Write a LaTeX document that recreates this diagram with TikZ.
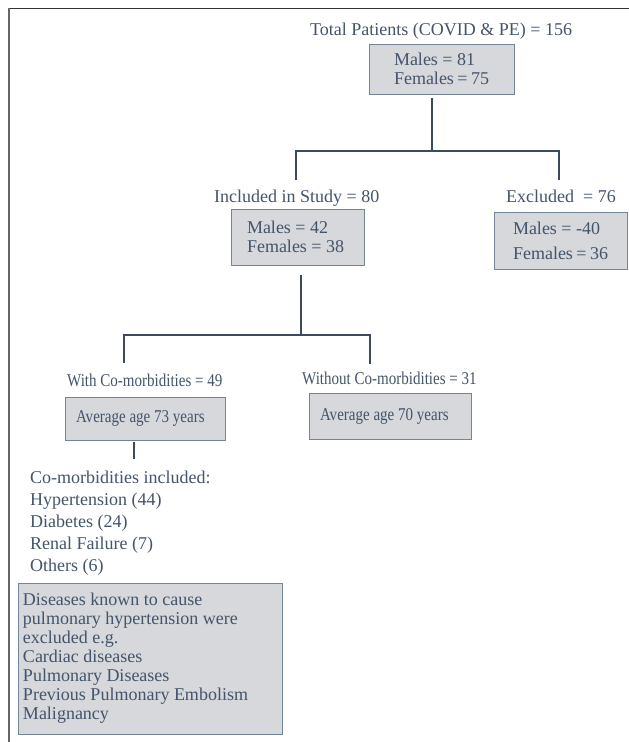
\documentclass[tikz,border=0pt]{standalone}
\usepackage{fontspec}
\setmainfont{Liberation Serif}
\newfontfamily\narrowserif[FakeStretch=0.835]{Liberation Serif}
\usetikzlibrary{calc}
\definecolor{txt}{HTML}{44546A}
\definecolor{boxfill}{HTML}{D6D8DB}
\definecolor{boxline}{HTML}{74849A}
\definecolor{lne}{HTML}{3B4A5E}
\begin{document}
\begin{tikzpicture}[x=1pt,y=-1pt,
  every node/.style={text=txt, font=\fontsize{18}{18.5}\selectfont, inner sep=0pt},
  lbl/.style={anchor=base west},
  small/.style={font=\narrowserif\fontsize{18}{18}\selectfont},
  box/.style={draw=boxline, fill=boxfill, line width=1pt, align=flush left, inner ysep=0pt},
  conn/.style={draw=lne, line width=1.5pt}]
\useasboundingbox (0,0) rectangle (629,742);
\draw[line width=1.5pt, color=black!80] (8,8.5) -- (629,8.5);
\draw[line width=2pt, color=black!60] (8.5,8) -- (8.5,742);

\node[lbl] (title) at (310,35) {Total Patients (COVID \& PE) = 156};
\node[box, text width=95pt, inner xsep=25pt, minimum height=50pt] (top) at (441.5,69) {Males~=~81\\Females~=~75};

\node[lbl] (incl) at (214,202) {Included in Study = 80};
\node[box, text width=101pt, inner xsep=16pt, minimum height=56pt] (inclbox) at (297.5,237) {Males~=~42\\Females~=~38};

\node[lbl] (excl) at (506,202) {Excluded~ = 76};
\node[box, text width=95pt, inner xsep=19pt, minimum height=57pt] (exclbox) at (560.5,240.5) {Males~=~-40\\[6.5pt]Females~=~36};

\node[lbl, small] (with) at (67,386) {With Co-morbidities = 49};
\node[box, small, text width=138pt, inner xsep=11pt, minimum height=43pt] (avgA) at (145,418.5) {Average age 73 years};

\node[lbl, small] (without) at (302,384) {Without Co-morbidities = 31};
\node[box, small, text width=140pt, inner xsep=11pt, minimum height=46pt] (avgB) at (390,416) {Average age 70 years};

\node[lbl, align=flush left, font=\fontsize{18}{21.8}\selectfont] (list) at (30,571) {Co-morbidities included:\\Hypertension (44)\\Diabetes (24)\\Renal Failure (7)\\Others (6)};

\node[box, text width=254pt, inner xsep=5pt, minimum height=151pt, font=\fontsize{18}{19}\selectfont] (excluded) at (150,658.5) {Diseases known to cause\\pulmonary hypertension were\\excluded e.g.\\Cardiac diseases\\Pulmonary Diseases\\Previous Pulmonary Embolism\\Malignancy};

% connectors
\coordinate (j1) at (432,151);
\coordinate (a1) at (296,180);
\coordinate (a2) at (559,180);
\draw[conn] ($(top.south -| j1)+(0,3)$) -- (j1);
\draw[conn] (a1) |- (j1) -| (a2);

\coordinate (j2) at (301,335);
\coordinate (b1) at (124,363);
\coordinate (b2) at (370,364);
\draw[conn] ($(inclbox.south -| j2)+(0,9)$) -- (j2);
\draw[conn] (b1) |- (j2) -| (b2);

\coordinate (c1) at (134,459);
\draw[conn] ($(avgA.south -| c1)+(0,1)$) -- (c1);
\end{tikzpicture}
\end{document}
